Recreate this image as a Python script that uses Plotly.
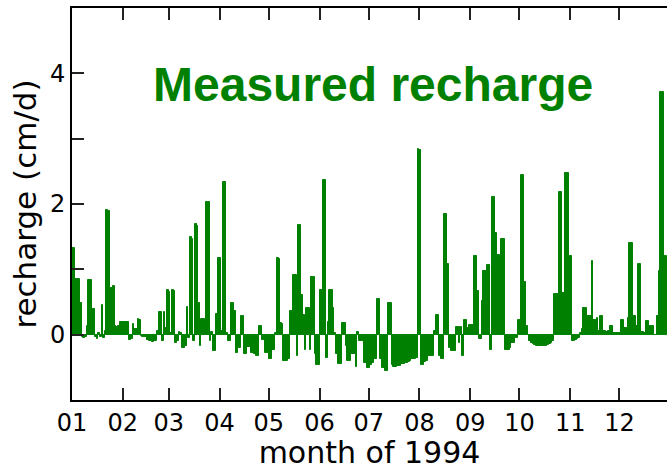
import pandas as pd
import plotly.graph_objects as go

# Daily recharge (cm/d) for 1994, one list per month
jan = [1.33, 1.33, 0.85, 0.85, 0.85, 0.49, -0.03, -0.05, -0.04, 0.14,
       0.84, 0.84, 0.40, 0.40, -0.04, -0.06, 0.02, -0.04, 0.46, -0.05,
       0.05, 1.91, 1.90, 0.72, 0.72, 0.74, 0.13, 0.12, 0.13, 0.19, 0.19]
feb = [0.19, 0.20, 0.20, 0.20, -0.08, -0.06, 0.16, 0.09, 0.09, 0.24,
       0.23, -0.02, -0.03, -0.03, -0.04, -0.08, -0.10, -0.10, -0.11, -0.10,
       -0.09, 0.05, 0.34, 0.34, -0.10, 0.34, 0.10, 0.69]
mar = [0.66, 0.02, 0.68, 0.67, -0.12, -0.10, 0.04, 0.03, -0.20, -0.20,
       -0.18, 0.43, -0.05, 1.49, 1.47, -0.10, 1.69, 1.66, 0.48, -0.18,
       0.24, 0.24, 0.00, 2.03, 2.03, -0.10, 0.04, -0.25, -0.25, 0.32, 1.17]
apr = [1.17, 0.05, 2.34, 2.34, 0.03, -0.10, -0.10, 0.48, 0.48, 0.36,
       -0.28, -0.07, -0.20, 0.29, 0.29, -0.30, -0.30, -0.19, -0.19, -0.28,
       -0.28, -0.30, -0.33, -0.33, 0.13, 0.13, -0.08, -0.08, -0.28, -0.28]
may = [-0.38, -0.38, -0.23, -0.23, 0.02, 1.17, 1.16, 0.18, 0.17, -0.40,
       -0.40, -0.40, -0.38, 0.36, 0.36, 0.92, 0.92, -0.32, 1.68, 1.68,
       0.61, 0.30, -0.23, 0.41, 0.41, -0.23, 0.89, 0.89, -0.30, -0.46, -0.46]
jun = [0.69, 0.69, 2.36, 2.36, -0.35, 0.20, 0.68, 0.68, 0.41, 0.03,
       -0.30, -0.45, -0.45, -0.45, 0.18, 0.18, -0.18, -0.40, -0.40, -0.30,
       -0.30, -0.30, -0.50, 0.04, -0.10, -0.10, -0.10, -0.43, -0.43, -0.51]
jul = [-0.51, -0.46, -0.43, -0.38, -0.38, 0.55, 0.55, -0.38, -0.51, -0.51,
       -0.56, -0.56, 0.49, 0.49, -0.46, -0.50, -0.50, -0.48, -0.48, -0.48,
       -0.45, -0.45, -0.43, -0.43, -0.42, -0.40, -0.38, -0.38, -0.38, -0.36, 2.84]
aug = [2.82, -0.46, -0.46, -0.42, -0.40, -0.33, -0.33, -0.33, -0.33, 0.05,
       0.30, 0.30, -0.33, -0.38, -0.38, 1.84, 1.84, 1.08, -0.20, -0.25,
       -0.25, -0.25, 0.12, 0.12, -0.13, 0.12, -0.33, 0.23, 0.23, 0.10, 0.15]
sep = [0.15, 0.15, 1.21, 1.21, 0.67, -0.07, -0.07, 0.52, 0.97, 0.97,
       1.07, 1.07, -0.23, 2.10, 2.10, 1.55, 1.22, 1.22, 0.23, 1.46,
       1.46, -0.23, -0.23, -0.23, -0.20, -0.13, -0.13, -0.05, -0.05, 0.23]
oct_ = [0.23, 2.44, 2.44, 0.81, 0.13, 0.00, -0.10, -0.13, -0.15, -0.16,
        -0.17, -0.18, -0.18, -0.18, -0.18, -0.18, -0.17, -0.16, -0.15, -0.13,
        -0.10, 0.63, 0.63, 0.63, 2.19, 2.19, 0.64, 0.64, 2.47, 2.47, 1.20]
nov = [1.20, -0.10, -0.10, -0.08, -0.06, -0.05, 0.02, 0.08, 0.41, 0.41,
       0.28, 0.28, 0.28, 1.12, 0.23, 0.23, 0.25, 0.05, 0.29, 0.29,
       0.05, 0.05, 0.04, 0.05, 0.13, 0.13, 0.03, 0.03, 0.02, 0.03]
dec = [0.03, 0.22, 0.22, 0.10, 0.10, 0.25, 1.41, 1.41, 0.28, 0.28,
       0.13, 1.08, 1.08, 0.04, 0.04, 0.03, 0.21, 0.21, 0.13, 0.13,
       0.13, 0.00, -0.01, 0.28, 0.97, 3.71, 3.71, 1.20, 1.20, 0.50, 0.30]

recharge = jan + feb + mar + apr + may + jun + jul + aug + sep + oct_ + nov + dec
days = pd.date_range("1994-01-01", periods=len(recharge), freq="D")
centers = days + pd.Timedelta(hours=12)

y_ticks = [-1, 0, 1, 2, 3, 4, 5]
y_labels = ["", "0", "", "2", "", "4", ""]

GREEN = "#008000"
AXIS_FONT = "DejaVu Sans"

fig = go.Figure()
fig.add_trace(go.Bar(
    x=centers, y=recharge,
    width=86400000,
    marker=dict(color=GREEN, line=dict(width=1, color=GREEN)),
    showlegend=False,
))

fig.update_layout(
    width=667, height=470,
    margin=dict(l=72, r=0, t=8, b=70),
    paper_bgcolor="white", plot_bgcolor="white",
    bargap=0,
    font=dict(family=AXIS_FONT, color="black", size=24),
    xaxis=dict(
        type="date",
        range=["1994-01-01", "1994-12-30"],
        tick0="1994-01-01", dtick="M1", tickformat="%m",
        ticks="inside", ticklen=12, tickwidth=1.5, tickcolor="#222",
        showline=True, linewidth=2, linecolor="black", mirror="ticks",
        showgrid=False, zeroline=False,
        tickfont=dict(size=24, family=AXIS_FONT),
        title=dict(text="month of 1994", font=dict(size=30, family=AXIS_FONT), standoff=11),
    ),
    yaxis=dict(
        range=[-1, 5],
        tickmode="array", tickvals=y_ticks, ticktext=y_labels,
        ticks="inside", ticklen=12, tickwidth=1.5, tickcolor="#222",
        showline=True, linewidth=2, linecolor="black", mirror=False,
        showgrid=False, zeroline=False,
        tickfont=dict(size=24, family=AXIS_FONT),
        title=dict(text="recharge (cm/d)", font=dict(size=31, family=AXIS_FONT), standoff=4),
    ),
    yaxis2=dict(
        overlaying="y", side="right", range=[-1, 5],
        tickmode="array", tickvals=y_ticks, ticktext=[""] * len(y_ticks),
        ticks="inside", ticklen=12, tickwidth=1.5, tickcolor="#222",
        showline=False, showgrid=False, zeroline=False,
    ),
    annotations=[dict(
        text="<b>Measured recharge</b>",
        xref="paper", yref="paper", x=0.506, y=0.805,
        xanchor="center", yanchor="middle", showarrow=False,
        font=dict(family="Liberation Sans", size=48, color=GREEN),
    )],
)

fig.write_html("out.html")
